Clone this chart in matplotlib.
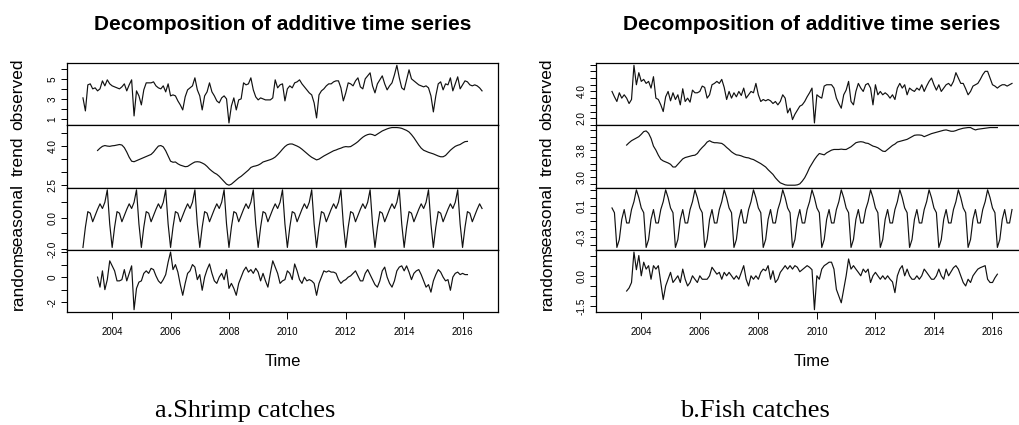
import numpy as np
import matplotlib
matplotlib.use("Agg")
import matplotlib.pyplot as plt

plt.rcParams['font.family'] = ['Liberation Sans', 'DejaVu Sans']

W, H = 1019, 425
start_year = 2003
n_months = 165

# ---------------- Shrimp (left) ----------------
shrimp_observed = [
    3.1, 1.8, 4.4, 4.5, 4.0, 4.1, 3.8, 4.0, 4.8, 4.3, 4.9, 4.5,
    4.3, 4.2, 4.1, 4.0, 4.2, 4.5, 3.8, 4.4, 4.9, 1.3, 3.8, 3.3,
    2.4, 3.9, 4.6, 4.6, 4.6, 4.7, 4.3, 4.1, 4.0, 4.3, 3.7, 4.5,
    3.3, 3.4, 3.3, 2.8, 2.4, 1.9, 3.2, 3.9, 4.1, 4.3, 5.1, 3.9,
    3.3, 1.9, 3.3, 3.7, 4.6, 3.7, 3.3, 2.8, 2.6, 3.1, 3.3, 3.0,
    0.6, 2.3, 3.1, 1.9, 2.9, 3.0, 4.6, 4.4, 4.5, 5.1, 3.9, 3.2,
    2.9, 3.1, 3.0, 2.9, 2.9, 2.9, 3.1, 4.9, 4.1, 4.4, 4.5, 2.8,
    4.0, 4.3, 4.1, 4.6, 4.7, 4.9, 4.5, 4.2, 3.9, 3.6, 3.4, 2.6,
    1.1, 3.4, 3.8, 4.0, 4.3, 4.5, 4.5, 4.7, 4.8, 4.8, 4.1, 2.8,
    3.6, 4.6, 4.5, 4.3, 4.8, 5.1, 4.2, 4.0, 5.0, 5.3, 5.6, 4.3,
    3.6, 4.5, 4.9, 5.3, 4.5, 3.9, 4.3, 4.6, 5.4, 6.35, 5.1, 4.1,
    3.9, 4.9, 5.9, 5.0, 4.8, 4.6, 4.4, 4.3, 4.2, 4.3, 4.1, 3.3,
    1.7, 3.3, 4.5, 4.7, 3.9, 4.5, 4.4, 5.1, 3.8, 4.5, 5.2, 4.0,
    4.4, 4.8, 4.7, 4.4, 4.3, 4.4, 4.3, 4.1, 3.8,
]
shrimp_trend = [
    3.81, 3.90, 3.97, 4.00, 3.98, 3.97,
    3.99, 4.00, 4.02, 4.04, 4.02, 3.92, 3.75, 3.55, 3.40, 3.38, 3.42, 3.46,
    3.50, 3.54, 3.58, 3.62, 3.66, 3.75, 3.87, 3.98, 4.00, 3.95, 3.80, 3.60,
    3.40, 3.36, 3.37, 3.30, 3.25, 3.22, 3.19, 3.20, 3.26, 3.32, 3.37, 3.38,
    3.37, 3.33, 3.28, 3.20, 3.10, 3.02, 2.95, 2.90, 2.82, 2.72, 2.62, 2.52,
    2.48, 2.52, 2.60, 2.68, 2.76, 2.82, 2.90, 2.98, 3.06, 3.16, 3.20, 3.22,
    3.25, 3.30, 3.37, 3.40, 3.43, 3.46, 3.50, 3.56, 3.65, 3.75, 3.86, 3.96,
    4.03, 4.06, 4.06, 4.02, 3.98, 3.93, 3.86, 3.78, 3.70, 3.62, 3.55, 3.50,
    3.45, 3.48, 3.54, 3.60, 3.65, 3.70, 3.75, 3.80, 3.83, 3.87, 3.90, 3.94,
    3.96, 3.95, 3.96, 4.02, 4.08, 4.15, 4.24, 4.32, 4.38, 4.42, 4.44, 4.42,
    4.38, 4.44, 4.50, 4.56, 4.60, 4.64, 4.67, 4.69, 4.69, 4.69, 4.68, 4.66,
    4.62, 4.58, 4.52, 4.42, 4.30, 4.16, 4.02, 3.90, 3.82, 3.78, 3.74, 3.71,
    3.68, 3.64, 3.60, 3.57, 3.57, 3.62, 3.72, 3.82, 3.90, 3.97, 4.01, 4.04,
    4.10, 4.15, 4.16,
]
shrimp_seasonal_month = [-1.9, -0.6, 0.4, 0.3, -0.25, 0.15, 0.55, 0.9, 0.6, 1.0, 1.8, -0.4]
shrimp_random = [
    0.0, -0.8, 0.5, -1.0, -0.2, 1.3,
    0.9, 0.5, -0.3, -0.3, -0.2, 0.6, -0.3, 0.3, 0.9, -2.6, -0.9, -0.4,
    -0.3, 0.3, 0.5, 0.3, 0.7, 0.6, 0.1, -0.3, -0.5, -0.2, 0.2, 1.2,
    2.0, 0.6, 1.0, 0.4, -0.6, -1.45, -0.5, 0.3, 0.5, 1.0, 0.8, -0.2,
    0.2, -1.05, 0.0, 0.6, 1.05, 0.3, -0.3, -0.5, 0.0, 0.3, -0.2, 0.6,
    -0.9, -0.5, -0.9, -1.45, -0.5, 0.0, 0.5, 0.8, 0.4, 0.6, 0.3, 0.7,
    0.4, -0.3, 0.3, -0.3, -0.8, 0.3, 1.3, 0.8, 0.3, -0.5, -0.3, -0.2,
    0.5, 0.3, -0.2, 1.05, 0.5, -0.2, -0.5, 0.0, -0.3, -0.2, -0.3, -0.5,
    -1.45, -0.5, 0.0, 0.5, 0.4, 0.5, 0.4, 0.4, 0.3, -0.2, -0.5, -0.3,
    -0.2, 0.0, 0.1, 0.3, 0.5, 0.1, -0.3, -0.3, 0.3, 0.6, 0.2, -0.2,
    -0.6, -0.8, -0.3, 0.5, 0.8, 0.0, -0.5, -0.8, -0.3, 0.5, 0.8, 0.9,
    0.5, 0.9, 0.4, -0.2, 0.3, 0.5, 0.6, 0.2, -0.3, -0.8, -0.6, -1.2,
    -0.3, 0.2, 0.6, 0.4, 0.0, -0.3, -0.2, -1.05, 0.0, 0.3, 0.4, 0.2,
    0.3, 0.2, 0.2,
]

# ---------------- Fish (right) ----------------
fish_observed = [
    4.0, 3.6, 3.25, 3.9, 3.5, 3.75, 3.5, 3.1, 3.4, 5.95, 4.5, 5.4,
    4.75, 4.9, 4.6, 4.75, 4.25, 5.1, 3.5, 3.4, 3.0, 2.5, 3.6, 4.0,
    3.3, 3.9, 3.4, 3.75, 3.0, 4.2, 3.25, 3.5, 3.2, 4.1, 3.9, 3.9,
    4.0, 4.4, 4.3, 3.5, 3.75, 4.5, 4.6, 4.75, 4.6, 4.9, 4.3, 3.4,
    4.0, 3.5, 3.9, 3.6, 4.0, 3.7, 4.25, 3.5, 3.75, 4.0, 3.9, 4.6,
    3.75, 3.25, 3.4, 3.3, 3.4, 3.3, 3.1, 3.25, 3.0, 3.25, 3.75, 3.5,
    2.4, 2.75, 1.9, 2.3, 2.6, 2.9, 3.0, 3.25, 3.6, 3.9, 4.25, 1.65,
    3.75, 3.6, 3.5, 4.4, 4.5, 4.5, 4.5, 4.25, 3.5, 3.1, 2.75, 3.75,
    4.1, 4.75, 3.25, 3.0, 4.0, 4.6, 4.25, 4.0, 4.5, 4.6, 4.25, 3.0,
    4.5, 3.75, 4.0, 3.75, 3.9, 3.75, 3.5, 3.75, 3.4, 4.25, 4.6, 4.25,
    4.5, 3.75, 4.25, 4.1, 4.0, 4.25, 4.1, 4.5, 4.0, 4.4, 4.75, 5.0,
    4.5, 4.1, 4.5, 4.0, 4.25, 4.5, 4.6, 4.4, 4.75, 5.4, 5.0, 4.6,
    4.6, 4.2, 3.75, 4.0, 4.4, 4.5, 4.6, 4.9, 5.25, 5.5, 5.5, 5.0,
    4.5, 4.4, 4.25, 4.4, 4.5, 4.5, 4.4, 4.5, 4.6,
]
fish_trend = [
    3.95, 4.02, 4.08, 4.12, 4.16, 4.20,
    4.27, 4.35, 4.37, 4.30, 4.15, 3.92, 3.80, 3.65, 3.53, 3.48, 3.45, 3.42,
    3.38, 3.30, 3.30, 3.38, 3.46, 3.54, 3.58, 3.60, 3.62, 3.64, 3.65, 3.70,
    3.80, 3.88, 3.95, 4.04, 4.08, 4.04, 4.02, 4.02, 4.01, 4.00, 3.95, 3.88,
    3.82, 3.75, 3.70, 3.66, 3.65, 3.63, 3.60, 3.58, 3.57, 3.54, 3.52, 3.48,
    3.44, 3.40, 3.35, 3.30, 3.22, 3.15, 3.08, 2.98, 2.90, 2.83, 2.80, 2.77,
    2.76, 2.76, 2.76, 2.76, 2.77, 2.80, 2.88, 2.98, 3.12, 3.28, 3.40, 3.52,
    3.62, 3.70, 3.68, 3.66, 3.72, 3.76, 3.80, 3.82, 3.82, 3.82, 3.83, 3.82,
    3.82, 3.86, 3.90, 3.96, 4.02, 4.04, 4.05, 4.04, 4.01, 4.00, 3.96, 3.92,
    3.90, 3.87, 3.82, 3.77, 3.76, 3.82, 3.88, 3.94, 3.98, 4.04, 4.06, 4.08,
    4.10, 4.12, 4.16, 4.20, 4.24, 4.25, 4.25, 4.24, 4.20, 4.23, 4.26, 4.29,
    4.31, 4.33, 4.35, 4.37, 4.39, 4.40, 4.38, 4.36, 4.36, 4.38, 4.41, 4.43,
    4.45, 4.46, 4.47, 4.47, 4.43, 4.40, 4.42, 4.43, 4.44, 4.45, 4.46, 4.47,
    4.47, 4.47, 4.47,
]
fish_seasonal_month = [0.07, 0.01, -0.43, -0.33, -0.075, 0.05, -0.12, -0.12, 0.05, 0.15, 0.30, 0.20]
fish_random = [
    -0.75, -0.6, -0.33, 1.17, 0.3, 1.0,
    0.0, 0.67, 0.33, 0.5, -0.17, 0.5, 0.33, 0.5, -0.33, -1.17, -0.5, -0.17,
    0.17, -0.33, -0.17, 0.0, -0.33, 0.33, -0.17, -0.5, -0.33, 0.0, -0.17, -0.33,
    0.0, -0.17, -0.17, -0.17, 0.0, 0.42, 0.25, 0.08, 0.17, -0.17, 0.17, 0.0,
    0.17, 0.0, -0.17, 0.0, -0.17, 0.17, 0.5, -0.17, -0.5, 0.0, -0.17, 0.0,
    -0.17, 0.17, 0.33, 0.25, 0.5, -0.17, 0.25, -0.33, -0.17, 0.17, 0.33, 0.5,
    0.33, 0.5, 0.33, 0.5, 0.42, 0.2, 0.3, 0.4, 0.5, 0.42, 0.3, -1.67,
    0.0, -0.17, 0.33, 0.5, 0.58, 0.67, 0.67, 0.33, -0.67, -1.0, -1.33, -0.67,
    0.0, 0.83, 0.33, 0.5, 0.33, 0.17, 0.0, 0.33, 0.17, 0.33, -0.33, 0.0,
    0.17, 0.0, -0.17, 0.0, -0.17, 0.0, -0.17, -0.3, -0.83, 0.0, 0.33, 0.5,
    0.0, 0.33, 0.0, -0.17, -0.17, 0.0, -0.17, 0.0, 0.33, 0.17, 0.0, -0.17,
    -0.17, 0.0, 0.33, 0.0, -0.17, 0.33, 0.0, 0.2, 0.4, 0.5, 0.33, 0.0,
    -0.33, -0.5, -0.17, -0.33, 0.0, 0.17, 0.33, 0.4, 0.45, 0.5, -0.17, -0.33,
    -0.33, -0.1, 0.08,
]

component_names = ["observed", "trend", "seasonal", "random"]

# tick positions / labels per component (left, right)
shrimp_ticks = {
    "observed": ([1, 2, 3, 4, 5, 6], ["1", "", "3", "", "5", ""]),
    "trend": ([2.5, 3.0, 3.5, 4.0, 4.5], ["2.5", "", "", "4.0", ""]),
    "seasonal": ([-2, -1, 0, 1], ["-2.0", "", "0.0", ""]),
    "random": ([-2, -1, 0, 1, 2], ["-2", "", "0", "", ""]),
}
fish_ticks = {
    "observed": ([1.5, 2.0, 2.5, 3.0, 3.5, 4.0, 4.5, 5.0, 5.5, 6.0],
                 ["", "2.0", "", "", "", "4.0", "", "", "", ""]),
    "trend": ([2.8, 3.0, 3.2, 3.4, 3.6, 3.8, 4.0, 4.2, 4.4],
              ["", "3.0", "", "", "", "3.8", "", "", ""]),
    "seasonal": ([-0.4, -0.3, -0.2, -0.1, 0.0, 0.1, 0.2, 0.3],
                 ["", "-0.3", "", "", "", "0.1", "", ""]),
    "random": ([-1.5, -1.0, -0.5, 0.0, 0.5, 1.0],
               ["-1.5", "", "", "0.0", "", ""]),
}
xtick_years = [2004, 2006, 2008, 2010, 2012, 2014, 2016]

fig = plt.figure(figsize=(W / 100, H / 100), dpi=100)

t = start_year + np.arange(n_months) / 12.0
t_mid = t[6:6 + len(shrimp_trend)]
pad = 0.04 * (t[-1] - t[0])
xlim = (t[0] - pad, t[-1] + pad)

panel_top, panel_bot = 63, 312
ph = (panel_bot - panel_top) / 4


def draw(x0, x1, comps, ticks, title, caption, cap_x):
    for i, name in enumerate(component_names):
        ytop = panel_top + i * ph
        rect = [x0 / W, 1 - (ytop + ph) / H, (x1 - x0) / W, ph / H]
        ax = fig.add_axes(rect)
        xs, ys = comps[name]
        ax.plot(xs, ys, color="#111111", lw=0.85)
        lo, hi = np.min(ys), np.max(ys)
        m = 0.04 * (hi - lo)
        ax.set_ylim(lo - m, hi + m)
        ax.set_xlim(*xlim)
        tk, tl = ticks[name]
        ax.set_yticks(tk)
        ax.set_yticklabels(tl, rotation=90, va="center")
        for s in ax.spines.values():
            s.set_linewidth(0.9)
        ax.tick_params(axis="y", direction="out", length=4.5, width=0.7,
                       labelsize=7.2, pad=2.5)
        if i == 3:
            ax.set_xticks(xtick_years)
            ax.set_xticklabels([str(y) for y in xtick_years])
            ax.tick_params(axis="x", direction="out", length=5, width=0.7,
                           labelsize=7, pad=6)
        else:
            ax.set_xticks([])
        fig.text((x0 - 49) / W, 1 - (ytop + ph / 2) / H, name, rotation=90,
                 ha="center", va="center", fontsize=12.5)
    cx = (x0 + x1) / 2
    fig.text(cx / W, 1 - 24 / H, title, ha="center", va="center",
             fontsize=15, fontweight="bold")
    fig.text(cx / W, 1 - 362 / H, "Time", ha="center", va="center", fontsize=12)
    fig.text(cap_x / W, 1 - 411 / H, caption, ha="center", va="center",
             fontsize=19, family="Liberation Serif")


shrimp_seasonal = np.resize(shrimp_seasonal_month, n_months)
fish_seasonal = np.resize(fish_seasonal_month, n_months)

draw(67, 498, {
    "observed": (t, shrimp_observed),
    "trend": (t_mid, shrimp_trend),
    "seasonal": (t, shrimp_seasonal),
    "random": (t_mid, shrimp_random),
}, shrimp_ticks, "Decomposition of additive time series", "a.Shrimp catches", 245)

draw(596, 1028, {
    "observed": (t, fish_observed),
    "trend": (t_mid, fish_trend),
    "seasonal": (t, fish_seasonal),
    "random": (t_mid, fish_random),
}, fish_ticks, "Decomposition of additive time series", "b.Fish catches", 755)

fig.savefig("out.png", dpi=100)
